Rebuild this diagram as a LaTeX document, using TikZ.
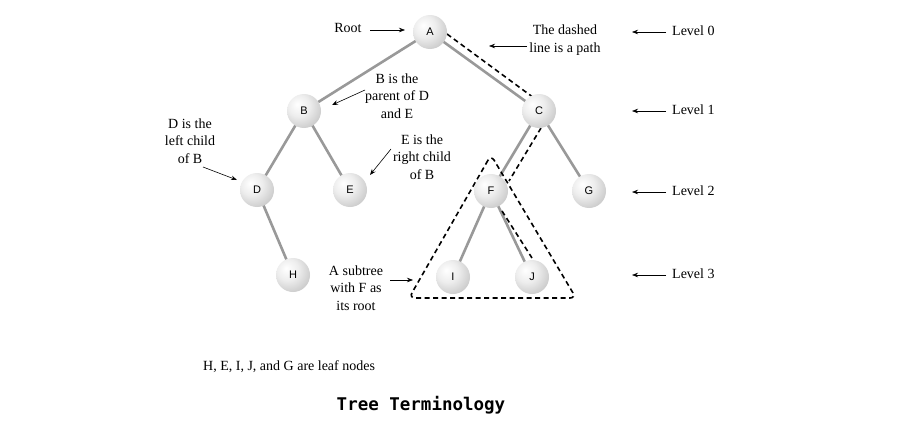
\documentclass[tikz,border=0pt]{standalone}
\usepackage{fontspec}
\setmainfont{Liberation Serif}
\newfontfamily\nodefont{Liberation Sans}
\newfontfamily\titlefont{DejaVu Sans Mono}
\usetikzlibrary{arrows.meta}
\pgfdeclareradialshading{myball}{\pgfpoint{-10bp}{10bp}}{color(0bp)=(white); color(16bp)=(white!93!black); color(40bp)=(white!74!black); color(56bp)=(white!55!black); color(80bp)=(white!50!black)}
\tikzset{
  tnode/.style={circle, minimum size=34pt, inner sep=0pt, shading=myball, font=\nodefont\fontsize{11}{12}\selectfont},
  edge/.style={line width=2.6pt, draw=black!40},
  dpath/.style={line width=1.6pt, dash pattern=on 5pt off 3.5pt},
  note/.style={align=center, font=\fontsize{14}{17.5}\selectfont, inner sep=0pt},
  arr/.style={line width=0.6pt, -{Stealth[length=6pt,width=4.5pt]}}
}
\begin{document}
\begin{tikzpicture}[x=1pt,y=-1pt]
\useasboundingbox (0,0) rectangle (900,423);
% edges first
\coordinate (pA) at (430,32);
\coordinate (pB) at (304,111);
\coordinate (pC) at (539,111);
\coordinate (pD) at (257,190);
\coordinate (pE) at (350,190);
\coordinate (pF) at (491,191);
\coordinate (pG) at (589,191);
\coordinate (pH) at (293,275);
\coordinate (pI) at (453,277);
\coordinate (pJ) at (532,277);
\draw[edge] (pA)--(pB) (pA)--(pC) (pB)--(pD) (pB)--(pE) (pD)--(pH) (pC)--(pF) (pC)--(pG) (pF)--(pI) (pF)--(pJ);
% dashed path
\coordinate (d1) at (447,34);
\coordinate (d2) at (534,98);
\coordinate (d3) at (541,128);
\coordinate (d4) at (509,181);
\coordinate (d5) at (502,211);
\coordinate (d6) at (532,258);
\draw[dpath] (d1)--(d2) (d3)--(d4) (d5)--(d6);
% subtree triangle
\coordinate (t1) at (491,155);
\coordinate (t2) at (409,298);
\coordinate (t3) at (576,298);
\draw[dpath, rounded corners=6pt] (t1)--(t2)--(t3)--cycle;
% nodes
\node[tnode] (A) at (pA) {A};
\node[tnode] (B) at (pB) {B};
\node[tnode] (C) at (pC) {C};
\node[tnode] (D) at (pD) {D};
\node[tnode] (E) at (pE) {E};
\node[tnode] (F) at (pF) {F};
\node[tnode] (G) at (pG) {G};
\node[tnode] (H) at (pH) {H};
\node[tnode] (I) at (pI) {I};
\node[tnode] (J) at (pJ) {J};
% annotations
\node[note] (root) at (348,28) {Root};
\coordinate (rootA) at (370,30);
\coordinate (rootB) at (405,30);
\draw[arr] (rootA) -- (rootB);
\node[note] (dash) at (565,40) {The dashed\\line is a path};
\coordinate (dashS) at (527,46);
\coordinate (dashA) at (489,46);
\draw[arr] (dashS) -- (dashA);
\node[note] (par) at (397,96) {B is the\\parent of D\\and E};
\coordinate (parA) at (365,90);
\coordinate (parB) at (332,105);
\draw[arr] (parA) -- (parB);
\node[note] (lc) at (190,141) {D is the\\left child\\of B};
\coordinate (lcA) at (203,167);
\coordinate (lcB) at (237,180);
\draw[arr] (lcA) -- (lcB);
\node[note] (rc) at (422,157) {E is the\\right child\\of B};
\coordinate (rcA) at (391,149);
\coordinate (rcB) at (370,175);
\draw[arr] (rcA) -- (rcB);
\node[note] (sub) at (356,288) {A subtree\\with F as\\its root};
\coordinate (subA) at (390,280);
\coordinate (subB) at (413,280);
\draw[arr] (subA) -- (subB);
\foreach \n/\y in {0/32,1/111,2/192,3/275}{
  \node[note, anchor=west] (L\n) at (672,\y-1) {Level \n};
  \coordinate (LS\n) at (666,\y);
  \coordinate (LA\n) at (632,\y);
  \draw[arr] (LS\n) -- (LA\n);
}
\node[note, anchor=west] (leaf) at (203,367) {H, E, I, J, and G are leaf nodes};
\node[inner sep=0pt, font=\titlefont\bfseries\fontsize{17.5}{20}\selectfont] (title) at (421,405) {Tree Terminology};
\end{tikzpicture}
\end{document}
